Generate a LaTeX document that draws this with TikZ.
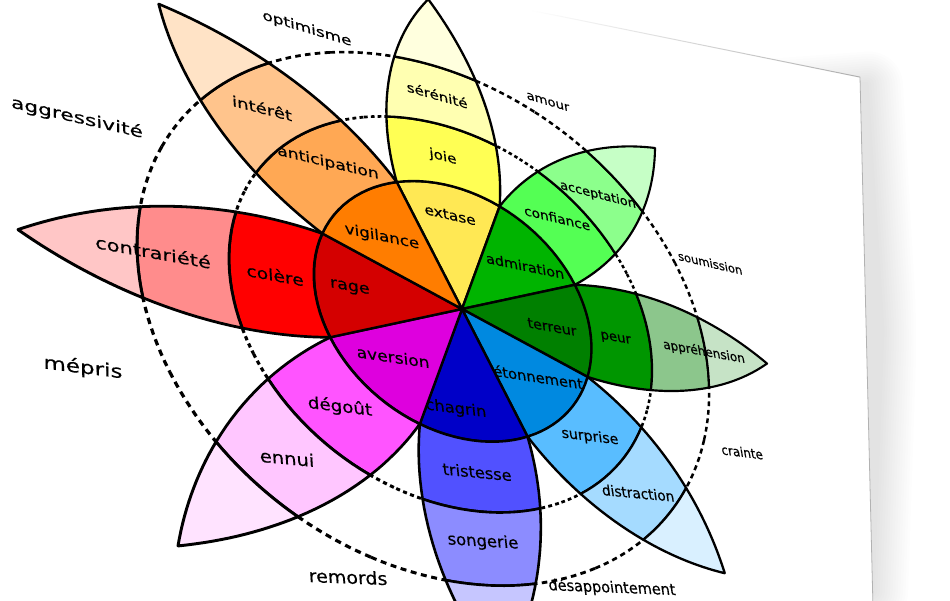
\documentclass[tikz,border=0pt]{standalone}
\usepackage{fontspec}
\setmainfont{DejaVu Sans}
\newfontfamily\wheelfont{DejaVu Sans}[FakeBold=0.35]
% colours of the wheel
\definecolor{yA}{RGB}{255,232,84}\definecolor{yB}{RGB}{255,255,84}\definecolor{yC}{RGB}{255,255,177}\definecolor{yD}{RGB}{255,255,222}
\definecolor{tA}{RGB}{0,180,0}\definecolor{tB}{RGB}{84,255,84}\definecolor{tC}{RGB}{140,255,140}\definecolor{tD}{RGB}{198,255,198}
\definecolor{fA}{RGB}{0,128,0}\definecolor{fB}{RGB}{0,150,0}\definecolor{fC}{RGB}{140,198,140}\definecolor{fD}{RGB}{198,227,198}
\definecolor{sA}{RGB}{0,137,224}\definecolor{sB}{RGB}{89,189,255}\definecolor{sC}{RGB}{165,219,255}\definecolor{sD}{RGB}{217,240,255}
\definecolor{bA}{RGB}{0,0,200}\definecolor{bB}{RGB}{81,81,255}\definecolor{bC}{RGB}{140,140,255}\definecolor{bD}{RGB}{198,198,255}
\definecolor{dA}{RGB}{222,0,222}\definecolor{dB}{RGB}{255,84,255}\definecolor{dC}{RGB}{255,198,255}\definecolor{dD}{RGB}{255,227,255}
\definecolor{rA}{RGB}{212,0,0}\definecolor{rB}{RGB}{255,0,0}\definecolor{rC}{RGB}{255,140,140}\definecolor{rD}{RGB}{255,198,198}
\definecolor{oA}{RGB}{255,125,0}\definecolor{oB}{RGB}{255,168,84}\definecolor{oC}{RGB}{255,196,140}\definecolor{oD}{RGB}{255,227,198}
\tikzset{
  declare function={
    hdn(\uu,\vv)=0.1856*\uu+0.0842*\vv+1;
    hmx(\uu,\vv)=(447.4*\uu+2.3*\vv+462)/hdn(\uu,\vv);
    hmy(\uu,\vv)=(122*\uu-309.8*\vv+309)/hdn(\uu,\vv);
    wpx(\rad,\ang)=hmx(\rad*cos(\ang),\rad*sin(\ang));
    wpy(\rad,\ang)=hmy(\rad*cos(\ang),\rad*sin(\ang));
    wsc(\rad,\ang)=1/hdn(\rad*cos(\ang),\rad*sin(\ang));
    edr(\ang)=cos(\ang)-1.42123*sin(\ang);
    eda(\rad)=acos(\rad/1.737784)-54.8696;
  },
  petal/.style={draw=black,line width=2.4pt,line join=round},
  lab/.style={font=\wheelfont\fontsize{19.3}{22}\selectfont,text=black,inner sep=0pt},
}
% inner sector of a petal
\newcommand\psector[2]{%
  \filldraw[petal,fill=#2] (O) -- plot[domain=0:1,samples=12]
    ({wpx(0.38,#1-22.5+45*\x)},{wpy(0.38,#1-22.5+45*\x)}) -- cycle;}
% a band of a petal between two radii
\newcommand\pband[4]{%
  \pgfmathsetmacro\bA{eda(#2)}\pgfmathsetmacro\bB{eda(#3)}%
  \pgfmathsetmacro\bW{2.45*wsc((#2+#3)/2,#1)}%
  \filldraw[petal,line width=\bW pt,fill=#4]
    plot[domain=0:1,samples=14] ({wpx(#3,#1-\bB+2*\bB*\x)},{wpy(#3,#1-\bB+2*\bB*\x)})
    -- plot[domain=0:1,samples=10] ({wpx(edr(\bB+(\bA-\bB)*\x),#1+\bB+(\bA-\bB)*\x)},{wpy(edr(\bB+(\bA-\bB)*\x),#1+\bB+(\bA-\bB)*\x)})
    -- plot[domain=0:1,samples=14] ({wpx(#2,#1+\bA-2*\bA*\x)},{wpy(#2,#1+\bA-2*\bA*\x)})
    -- plot[domain=0:1,samples=10] ({wpx(edr(\bA+(\bB-\bA)*\x),#1-\bA-(\bB-\bA)*\x)},{wpy(edr(\bA+(\bB-\bA)*\x),#1-\bA-(\bB-\bA)*\x)})
    -- cycle;}
% the tip of a petal
\newcommand\ptip[2]{%
  \pgfmathsetmacro\bA{eda(0.77)}%
  \pgfmathsetmacro\bW{2.45*wsc(0.87,#1)}%
  \filldraw[petal,line width=\bW pt,fill=#2]
    plot[domain=0:1,samples=16] ({wpx(edr(\bA*\x),#1+\bA*\x)},{wpy(edr(\bA*\x),#1+\bA*\x)})
    -- plot[domain=0:1,samples=12] ({wpx(0.77,#1+\bA-2*\bA*\x)},{wpy(0.77,#1+\bA-2*\bA*\x)})
    -- plot[domain=0:1,samples=16] ({wpx(edr(\bA*(1-\x)),#1-\bA*(1-\x))},{wpy(edr(\bA*(1-\x)),#1-\bA*(1-\x))})
    -- cycle;}
\newcommand\wpetal[5]{%
  \psector{#1}{#2}\pband{#1}{0.38}{0.575}{#3}\pband{#1}{0.575}{0.77}{#4}\ptip{#1}{#5}}
% a dashed circle, in 16 arcs whose width follows the perspective
\newcommand\pdashed[3]{% radius, on, off
  \foreach \i in {0,...,15}{%
    \pgfmathsetmacro\dA{22.5*\i}\pgfmathsetmacro\dB{22.5*\i+22.5}%
    \pgfmathsetmacro\dS{wsc(#1,22.5*\i+11.25)}%
    \pgfmathsetmacro\dW{2.75*\dS}\pgfmathsetmacro\dOn{#2*\dS}\pgfmathsetmacro\dOff{#3*\dS}%
    \draw[black,line width=\dW pt,dash pattern=on \dOn pt off \dOff pt]
      plot[domain=\dA:\dB,samples=14] ({wpx(#1,\x)},{wpy(#1,\x)});
  }}
% a label laid on the tilted page: name, x, y, text
\newcommand\plab[4]{%
  \pgfmathsetmacro\lS{1.16629-#2/1757.1+#3/3197.4}%
  \pgfmathsetmacro\lA{(447.4-0.1856*#2)*\lS/447.4}%
  \pgfmathsetmacro\lB{-(122-0.1856*#3)*\lS/447.4}%
  \pgfmathsetmacro\lC{(2.3-0.0842*#2)*\lS/447.4}%
  \pgfmathsetmacro\lD{(309.8+0.0842*#3)*\lS/447.4}%
  \begin{scope}[shift={(#2,#3)},cm={\lA,\lB,\lC,\lD,(0,0)}]
    \node[lab,transform shape] (#1) at (0,0) {#4};
  \end{scope}}
\begin{document}
\begin{tikzpicture}[x=1pt,y=-1pt]
\useasboundingbox (0,0) rectangle (950,600);
\clip (0,0) rectangle (950,600);
% page shadow (right side only)
\foreach \k in {1,...,14}{
  \fill[black,opacity=0.0095,rounded corners={2.5pt*\k}]
    ({760-2.5*\k},{97-2.5*\k}) -- ({866+2.5*\k},{84-2.5*\k}) -- ({882+2.5*\k},330) -- ({872+2.5*\k},{592+2.5*\k}) -- ({760-2.5*\k},{592+2.5*\k}) -- cycle;
}
% page
\fill[white] (-300,-157) -- (860,77) -- (873,608) -- (-300,608) -- cycle;
\shade[left color=white,right color=black!32] (530,9.6) -- (860,76.6) -- (860,77.6) -- (530,10.6) -- cycle;
\draw[black!30,line width=0.8pt] (860,77) -- (873,608);
\coordinate (O) at (462,309);
% dashed circles
\pdashed{0.77}{5.4}{4.2}
\pdashed{0.575}{3.8}{3.2}
% petals
\wpetal{90}{yA}{yB}{yC}{yD}
\wpetal{45}{tA}{tB}{tC}{tD}
\wpetal{0}{fA}{fB}{fC}{fD}
\wpetal{-45}{sA}{sB}{sC}{sD}
\wpetal{-90}{bA}{bB}{bC}{bD}
\wpetal{-135}{dA}{dB}{dC}{dD}
\wpetal{180}{rA}{rB}{rC}{rD}
\wpetal{135}{oA}{oB}{oC}{oD}
% inner labels
\plab{l1}{450}{215}{extase}
\plab{l2}{382}{237}{vigilance}
\plab{l3}{350}{288}{rage}
\plab{l4}{393}{357}{aversion}
\plab{l5}{456}{409}{chagrin}
\plab{l6}{538}{377}{étonnement}
\plab{l7}{552}{327}{terreur}
\plab{l8}{525}{266}{admiration}
\plab{m1}{443}{157}{joie}
\plab{m2}{328}{163}{anticipation}
\plab{m3}{275}{275}{colère}
\plab{m4}{340}{407}{dégoût}
\plab{m5}{477}{472}{tristesse}
\plab{m6}{590}{437}{surprise}
\plab{m7}{616}{339}{peur}
\plab{m8}{557}{218}{confiance}
\plab{n1}{437}{95}{sérénité}
\plab{n2}{262}{108}{intérêt}
\plab{n3}{153}{252}{contrariété}
\plab{n4}{287}{458}{ennui}
\plab{n5}{483}{542}{songerie}
\plab{n6}{638}{493}{distraction}
\plab{n7}{704}{352}{appréhension}
\plab{n8}{598}{195}{acceptation}
% outer labels
\plab{o1}{307}{29}{optimisme}
\plab{o2}{77}{118}{aggressivité}
\plab{o3}{83}{368}{mépris}
\plab{o4}{348}{577}{remords}
\plab{o5}{612}{588}{désappointement}
\plab{o6}{742}{452}{crainte}
\plab{o7}{710}{263}{soumission}
\plab{o8}{548}{102}{amour}
\end{tikzpicture}
\end{document}
